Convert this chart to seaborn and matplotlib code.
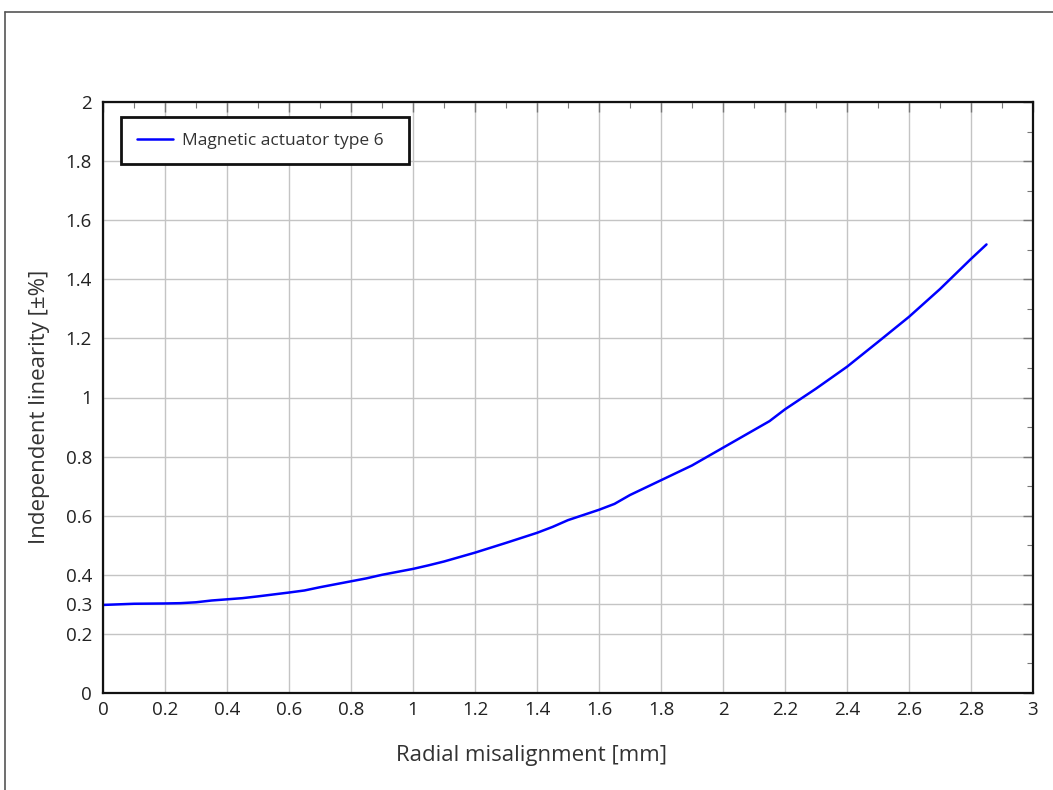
import matplotlib
matplotlib.use("Agg")
import matplotlib.pyplot as plt
from matplotlib.lines import Line2D
from matplotlib.ticker import MultipleLocator
import seaborn as sns
import pandas as pd

# Data
misalignment_mm = [0.0, 0.1, 0.2, 0.25, 0.3, 0.35, 0.4, 0.45, 0.5, 0.6, 0.65, 0.7, 0.8, 0.85,
                   0.9, 1.0, 1.05, 1.1, 1.2, 1.3, 1.4, 1.45, 1.5, 1.6, 1.65, 1.7, 1.8, 1.9,
                   2.0, 2.1, 2.15, 2.2, 2.3, 2.4, 2.5, 2.6, 2.7, 2.8, 2.85]
linearity_pct = [0.298, 0.302, 0.303, 0.304, 0.307, 0.313, 0.317, 0.321, 0.327, 0.340, 0.347,
                 0.358, 0.378, 0.388, 0.400, 0.420, 0.432, 0.445, 0.475, 0.508, 0.542, 0.562,
                 0.585, 0.620, 0.640, 0.670, 0.720, 0.770, 0.830, 0.890, 0.920, 0.960, 1.030,
                 1.104, 1.188, 1.273, 1.367, 1.469, 1.518]
series_name = "Magnetic actuator type 6"
x_ticks = [0, 0.2, 0.4, 0.6, 0.8, 1, 1.2, 1.4, 1.6, 1.8, 2, 2.2, 2.4, 2.6, 2.8, 3]
y_ticks = [0, 0.2, 0.3, 0.4, 0.6, 0.8, 1, 1.2, 1.4, 1.6, 1.8, 2]

df = pd.DataFrame({"x": misalignment_mm, "y": linearity_pct, "series": series_name})

sns.set_style("white")
plt.rcParams["font.family"] = ["Open Sans", "DejaVu Sans"]

fig = plt.figure(figsize=(10.53, 7.9), dpi=100)
ax = fig.add_axes([103 / 1053, 1 - 693 / 790, 930 / 1053, 591 / 790])

sns.lineplot(data=df, x="x", y="y", hue="series", palette=["#0000ff"], linewidth=1.8, ax=ax)

ax.set_xlim(0, 3)
ax.set_ylim(0, 2)
ax.set_xticks(x_ticks)
ax.set_xticklabels([f"{t:g}" for t in x_ticks])
ax.set_yticks(y_ticks)
ax.set_yticklabels([f"{t:g}" for t in y_ticks])
ax.xaxis.set_minor_locator(MultipleLocator(0.1))
ax.yaxis.set_minor_locator(MultipleLocator(0.1))

ax.grid(True, which="major", color="#c4c4c4", linewidth=1.0)
ax.set_axisbelow(True)
ax.tick_params(which="both", direction="in", top=True, right=True, color="#777777",
               labelcolor="#222222", labelsize=13.5)
ax.tick_params(which="major", length=7, width=1.0)
ax.tick_params(axis="y", which="major", pad=8)
ax.tick_params(axis="x", which="major", pad=6)
ax.tick_params(which="minor", length=4.5, width=0.8)
for s in ax.spines.values():
    s.set_visible(True)
    s.set_linewidth(1.6)
    s.set_color("#111111")

ax.set_xlabel("Radial misalignment [mm]", fontsize=16, color="#333333")
ax.set_ylabel("Independent linearity [±%]", fontsize=16, color="#333333")
ax.xaxis.set_label_coords((531 - 103) / 930, -(755 - 693) / 591)
ax.yaxis.set_label_coords(-(103 - 40) / 930, (693 - 407) / 591)
ax.xaxis.label.set_va("center")
ax.yaxis.label.set_va("center")

leg = ax.legend(loc="upper left", bbox_to_anchor=(18 / 930, 1 - 63 / 591, 288 / 930, 48 / 591),
                mode="expand", frameon=True,
                fancybox=False, framealpha=1, edgecolor="#111111", fontsize=12.5,
                handlelength=2.07, borderpad=0.9, handletextpad=0.52, borderaxespad=0)
leg.get_frame().set_linewidth(2.0)
for t in leg.get_texts():
    t.set_color("#333333")
    t.set_text(series_name)
leg.set_title(None)

# outer frame lines (left and top)
fig.add_artist(Line2D([5 / 1053, 5 / 1053], [0, 1 - 12 / 790], color="#555555", linewidth=1.2,
                      transform=fig.transFigure))
fig.add_artist(Line2D([5 / 1053, 1], [1 - 12 / 790, 1 - 12 / 790], color="#555555", linewidth=1.2,
                      transform=fig.transFigure))

fig.savefig("out.png", dpi=100)
